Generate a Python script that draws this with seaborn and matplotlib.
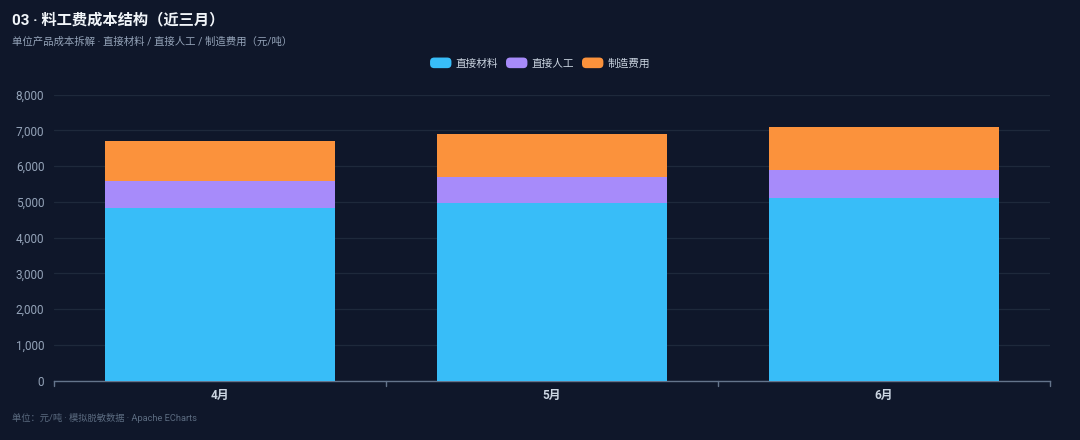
import seaborn as sns
import pandas as pd
import matplotlib.pyplot as plt
from matplotlib.patches import Patch, FancyBboxPatch
from matplotlib.legend_handler import HandlerPatch

# Data (元/吨)
months = ["4月", "5月", "6月"]
material = [4830, 4960, 5120]
labor = [760, 750, 770]
overhead = [1120, 1180, 1210]
series_names = ["直接材料", "直接人工", "制造费用"]
colors = ["#38bdf8", "#a78bfa", "#fb923c"]

bg = "#0f172a"

df = pd.DataFrame({"月份": months, "直接材料": material, "直接人工": labor, "制造费用": overhead})
# cumulative tops for stacking
df["top_material"] = df["直接材料"]
df["top_labor"] = df["直接材料"] + df["直接人工"]
df["top_overhead"] = df["top_labor"] + df["制造费用"]

sns.set_theme(style="dark")
plt.rcParams['font.family'] = ['Roboto', 'Noto Sans CJK SC', 'DejaVu Sans']
plt.rcParams['axes.unicode_minus'] = False

fig = plt.figure(figsize=(10.8, 4.4), dpi=100, facecolor=bg)
ax = fig.add_axes([54 / 1080, 1 - 380.7 / 440, 996 / 1080, (380.7 - 94.7) / 440])
ax.set_facecolor(bg)

# Draw stacked bars (largest first so smaller ones sit on top)
for col, c in zip(["top_overhead", "top_labor", "top_material"], colors[::-1]):
    sns.barplot(data=df, x="月份", y=col, color=c, width=0.69, ax=ax,
                saturation=1, linewidth=0, zorder=3)

ax.set_ylim(0, 8000)
ax.set_xlim(-0.5, 2.5)
ax.set_yticks(range(0, 8001, 1000))
ax.set_yticklabels([f"{v:,}" for v in range(0, 8001, 1000)])
ax.grid(axis="y", color="#1e293b", linewidth=0.9, zorder=0)
ax.grid(axis="x", visible=False)
ax.set_xlabel("")
ax.set_ylabel("")

for s in ["top", "right", "left"]:
    ax.spines[s].set_visible(False)
ax.spines["bottom"].set_color("#64748b")
ax.spines["bottom"].set_linewidth(1)

ax.tick_params(axis="y", colors="#94a3b8", labelsize=8.5, length=0, pad=7)
ax.tick_params(axis="x", colors="#cbd5e1", labelsize=8.5, length=0, pad=6)
for lab in ax.get_xticklabels():
    lab.set_fontweight("bold")

# boundary tick marks below the axis
for xb in [-0.5, 0.5, 1.5, 2.5]:
    ax.plot([xb, xb], [0, -140], color="#64748b", linewidth=1, clip_on=False, zorder=4)


class RoundHandler(HandlerPatch):
    def create_artists(self, legend, orig_handle, xdescent, ydescent, width, height, fontsize, trans):
        p = FancyBboxPatch((-xdescent, -ydescent), width, height,
                           boxstyle="round,pad=0,rounding_size=3",
                           facecolor=orig_handle.get_facecolor(), edgecolor="none",
                           transform=trans)
        return [p]


handles = [Patch(facecolor=c, label=n) for n, c in zip(series_names, colors)]
leg = fig.legend(handles=handles, loc="center", bbox_to_anchor=(540 / 1080, 1 - 63 / 440),
                 ncol=3, frameon=False, fontsize=7.7, labelcolor="#cbd5e1",
                 handlelength=2.0, handleheight=1.15, handletextpad=0.38, columnspacing=0.75,
                 handler_map={Patch: RoundHandler()})

fig.text(12 / 1080, 1 - 20 / 440, "03 · 料工费成本结构（近三月）", color="#f1f5f9",
         fontsize=11, fontweight="bold", va="center", ha="left")
fig.text(12 / 1080, 1 - 42 / 440, "单位产品成本拆解 · 直接材料 / 直接人工 / 制造费用（元/吨）",
         color="#94a3b8", fontsize=7.5, va="center", ha="left")
fig.text(12 / 1080, 1 - 418 / 440, "单位：元/吨 · 模拟脱敏数据 · Apache ECharts",
         color="#5b6b80", fontsize=6.7, va="center", ha="left")

fig.savefig("out.png", dpi=100, facecolor=bg)
